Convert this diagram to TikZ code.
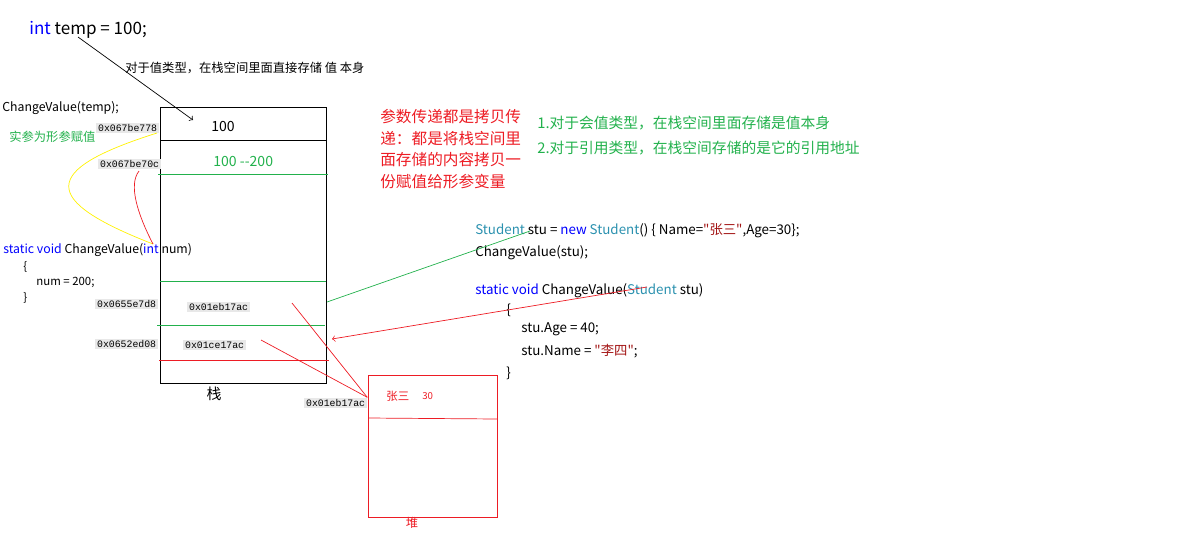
\documentclass[tikz,border=0pt]{standalone}
\usepackage{fontspec}
\setmainfont{Noto Sans CJK SC}[Ligatures=TeXOff]
\setmonofont{Liberation Mono}
\usetikzlibrary{arrows}
\definecolor{kwblue}{RGB}{0, 0, 255}
\definecolor{typeteal}{RGB}{43, 145, 175}
\definecolor{strred}{RGB}{163, 21, 21}
\definecolor{notegreen}{RGB}{34, 177, 76}
\definecolor{notered}{RGB}{237, 28, 36}
\definecolor{addrgray}{RGB}{232, 232, 232}
\definecolor{linkyellow}{RGB}{255, 242, 0}

\tikzset{
  code/.style={anchor=west, inner sep=0pt, font=\fontsize{7}{8}\selectfont},
  rcode/.style={code, font=\fontsize{7.6}{8}\selectfont},
  lcode/.style={code, font=\fontsize{6.5}{7}\selectfont},
  addr/.style={anchor=west, fill=addrgray, inner sep=1pt, font=\ttfamily\fontsize{5.6}{6}\selectfont},
  memcell/.style={draw, inner sep=0pt},
  link/.style={thin},
}

\begin{document}
\begin{tikzpicture}[x=0.02cm, y=-0.02cm]
            \useasboundingbox (0,0) rectangle (1204,538);
            % value type
            \node[code, font=\fontsize{9.7}{10}\selectfont] (temp) at ( 29, 30) {\textcolor{kwblue}{int} temp = 100;};
            \node[code] (valnote) at (125, 68) {对于值类型，在栈空间里面直接存储 值 本身};
            \node[code] (callval) at (  2,108) {ChangeValue(temp);};
            \node[code, text=notegreen] (argnote) at (  9,137) {实参为形参赋值};
            % stack
            \node[memcell, minimum width=3.32cm, minimum height=5.52cm] (stack) at (243,245) {};
            \draw (160,140) -- (326,140);
            \draw[notegreen] (158,174) -- (328,174);
            \draw[notegreen] (160,281) -- (326,281);
            \draw[notegreen] (157,325) -- (325,325);
            \draw[notered]   (159,360) -- (329,360);
            \node[code, font=\fontsize{8}{9}\selectfont] (v100) at (211,126) {100};
            \node[code, font=\fontsize{8}{9}\selectfont, text=notegreen] (v200) at (213,161) {100 --200};
            \node[addr] (a778) at ( 96,128) {0x067be778};
            \node[addr] (a70c) at ( 98,164) {0x067be70c};
            \node[addr] (a7d8) at ( 95,304) {0x0655e7d8};
            \node[addr] (ref1) at (187,307) {0x01eb17ac};
            \node[addr] (ad08) at ( 95,344) {0x0652ed08};
            \node[addr] (ref2) at (183,345) {0x01ce17ac};
            \node[font=\fontsize{8.5}{9}\selectfont] (stacklbl) at (214,394) {栈};
            % method with value parameter
            \node[code] (sigval) at (  3,250) {\textcolor{kwblue}{static void} ChangeValue(\textcolor{kwblue}{int} num)};
            \node[lcode] at ( 23,267) {\{};
            \node[lcode] at ( 36,282) {num = 200;};
            \node[lcode] at ( 23,298) {\}};
            % heap
            \node[memcell, draw=notered, minimum width=2.58cm, minimum height=2.84cm] (heap) at (432.5,446) {};
            \draw[notered] (368,418) -- (497,419);
            \node[code, text=notered, font=\fontsize{6.5}{7}\selectfont] (objname) at (386,396) {张三};
            \node[code, text=notered, font=\fontsize{5.5}{6}\selectfont] (objage) at (422,396) {30};
            \node[text=notered, font=\fontsize{7}{8}\selectfont] (heaplbl) at (412,523) {堆};
            \node[addr] (aheap) at (304,403) {0x01eb17ac};
            % notes
            \node[anchor=north west, inner sep=0pt, align=left, text=notered,
                  font=\fontsize{8.9}{12.3}\selectfont] (copynote) at (380,109)
                  {参数传递都是拷贝传\\递：都是将栈空间里\\面存储的内容拷贝一\\份赋值给形参变量};
            \node[code, text=notegreen, font=\fontsize{8.4}{9}\selectfont] (note1) at (537,123) {1.对于会值类型，在栈空间里面存储是值本身};
            \node[code, text=notegreen, font=\fontsize{8.4}{9}\selectfont] (note2) at (537,148) {2.对于引用类型，在栈空间存储的是它的引用地址};
            % reference type
            \node[rcode] (newstu) at (475,231) {\textcolor{typeteal}{Student} stu = \textcolor{kwblue}{new} \textcolor{typeteal}{Student}() \{ Name=\textcolor{strred}{"张三"},Age=30\};};
            \node[rcode] (callref) at (475,253) {ChangeValue(stu);};
            \node[rcode] (sigref) at (475,291) {\textcolor{kwblue}{static void} ChangeValue(\textcolor{typeteal}{Student} stu)};
            \node[rcode] at (506,310) {\{};
            \node[rcode] at (521,329) {stu.Age = 40;};
            \node[rcode] at (521,351) {stu.Name = \textcolor{strred}{"李四"};};
            \node[rcode] at (506,373) {\}};
            % connectors
            \coordinate (tempTail) at ( 78, 37);
            \coordinate (cellTop)  at (193,120);
            \coordinate (parmIn)   at (153,244);
            \coordinate (stuTail)  at (530,231);
            \coordinate (stuSlot)  at (327,302);
            \coordinate (parmTail) at (647,287);
            \coordinate (parmSlot) at (332,339);
            \draw[link, ->] (tempTail) -- (cellTop);
            \draw[link, linkyellow] (157,133) .. controls (40,170) and (40,200) .. (parmIn);
            \draw[link, notered] (139,171) .. controls (128,185) and (138,215) .. (parmIn);
            \draw[link, notegreen] (stuSlot) -- (stuTail);
            \draw[link, notered, ->] (parmTail) -- (parmSlot);
            \draw[link, notered] (292,303) -- (aheap.north east);
            \draw[link, notered] (261,340) -- (aheap.north east);
        \end{tikzpicture}
\end{document}
